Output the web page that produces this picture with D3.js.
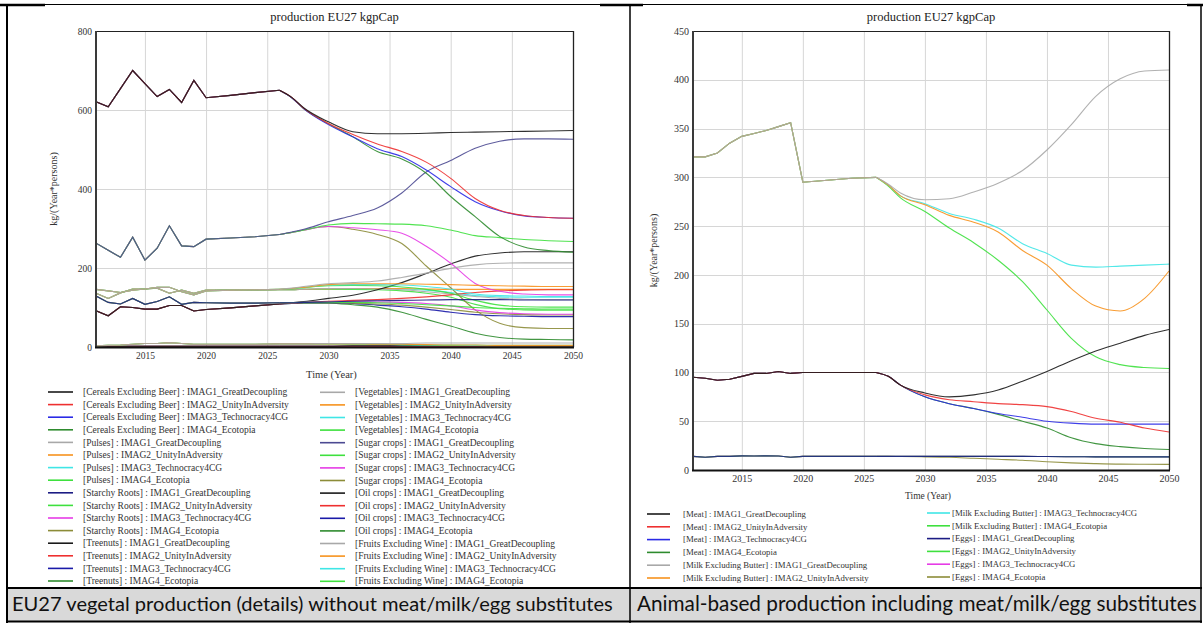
<!DOCTYPE html>
<html><head><meta charset="utf-8">
<script src="https://cdn.jsdelivr.net/npm/d3@7"></script>
<style>
html,body{margin:0;padding:0;background:#fff;}
svg{display:block;}
</style></head>
<body>
<svg id="c" width="1203" height="623"></svg>
<script>
// ---------- shared ----------
const SCENARIOS = ["IMAG1_GreatDecoupling","IMAG2_UnityInAdversity","IMAG3_Technocracy4CG","IMAG4_Ecotopia"];
const HIST_YEARS = [2011,2012,2013,2014,2015,2016,2017,2018,2019,2020,2022,2024,2026];
const FUT_YEARS  = [2027,2028,2030,2032,2034,2036,2038,2040,2042,2044,2046,2048,2050];
const X_TICKS = [2015,2020,2025,2030,2035,2040,2045,2050];

// ---------- left chart (vegetal) ----------
const LEFT_Y_TICKS = [0,200,400,600,800];
const cerealsHist = [621,608,654,700,667,634,652,619,675,631,637,644,650];
const cerealsFut = [
  [632,605,570,545,540,540,541,543,544,545,546,547,548],
  [632,604,566,538,514,495,468,427,376,346,333,328,326],
  [631,603,563,532,502,482,448,406,368,345,332,328,326],
  [631,603,565,532,495,476,440,381,330,280,253,244,240]];
const pulsesHist = [3,4,5,7,9,9,11,9,7,7,7,7,8];
const pulsesFut = [
  [8,8,9,9,9,9,10,10,10,10,10,10,10],
  [8,8,8,8,7,7,6,5,5,4,4,4,4],
  [8,8,8,8,7,6,5,5,4,4,4,4,4],
  [8,8,8,7,7,6,5,4,4,3,3,3,3]];
const starchyHist = [129,113,109,123,108,115,127,108,113,112,111,111,112];
const starchyFut = [
  [112,113,114,116,117,118,119,120,120,120,119,119,119],
  [112,113,113,113,112,110,107,104,100,98,97,96,96],
  [112,113,113,114,114,113,110,104,94,87,84,83,83],
  [112,112,112,111,109,106,101,95,88,84,82,81,81]];
const treenutsHist = [2,2,2,2,2,2,2,2,2,2,2,2,2];
const treenutsFut = [
  [2,2,2,3,3,3,3,3,3,3,3,3,3],
  [2,2,2,2,2,2,2,2,2,2,2,2,2],
  [2,2,2,2,2,2,2,2,2,2,2,2,2],
  [2,2,2,2,2,2,2,2,1,1,1,1,1]];
const vegHist = [146,142,138,144,147,151,151,140,132,142,144,145,146];
const vegFut = [
  [149,153,160,163,167,176,187,199,208,212,213,213,213],
  [148,151,158,160,160,160,159,158,156,155,154,153,153],
  [148,151,157,158,158,157,153,146,134,130,129,128,128],
  [147,150,155,156,155,152,146,136,118,106,102,101,101]];
const sugarHist = [263,245,227,278,220,250,307,256,254,273,276,279,285];
const sugarFut = [
  [291,298,317,333,352,390,443,472,503,521,527,527,526],
  [290,296,309,313,312,311,307,296,282,277,272,269,267],
  [290,296,305,302,297,288,255,212,161,141,134,132,132],
  [290,296,305,298,285,262,205,150,94,60,49,47,47]];
const oilHist = [92,79,102,100,96,96,105,105,91,95,99,104,109];
const oilFut = [
  [112,115,123,131,145,163,186,210,230,238,241,241,241],
  [111,113,116,118,120,123,127,132,138,142,144,145,145],
  [110,112,112,110,106,102,96,88,82,79,78,77,77],
  [110,111,111,107,101,88,70,53,35,24,20,19,18]];
const fruitsHist = [136,123,137,147,147,149,136,144,136,144,144,144,145];
const fruitsFut = [
  [145,146,148,148,147,145,140,134,128,123,121,120,120],
  [145,146,147,148,148,148,147,146,146,146,146,146,146],
  [145,146,147,148,148,147,144,138,130,127,126,126,126],
  [145,146,146,146,145,142,136,126,108,97,94,93,93]];

// ---------- right chart (animal) ----------
const RIGHT_Y_TICKS = [0,50,100,150,200,250,300,350,400,450];
const meatHist = [95,94,92,93,96,99,99,101,99,100,100,100,100];
const meatFut = [
  [96,87,79,75,77,82,91,101,112,122,130,138,144],
  [96,87,77,72,70,68,67,65,60,53,49,43,39],
  [96,87,75,68,63,58,54,50,48,47,47,47,47],
  [96,87,75,68,63,57,50,43,33,27,24,22,21]];
const milkHist = [321,321,325,335,342,345,348,352,356,295,297,299,300];
const milkFut = [
  [293,284,277,278,285,294,307,328,354,383,401,409,410],
  [292,281,272,261,254,244,225,210,186,168,163,176,204],
  [292,281,273,263,257,248,232,222,210,208,209,210,211],
  [291,279,265,248,233,215,193,164,135,116,108,105,104]];
const eggsHist = [14,13,14,14,14.5,14.3,14.5,14.3,13,14,14,14,14];
const eggsFut = [
  [14,14,14,14,14,14,14,13.8,13.6,13.5,13.5,13.5,13.5],
  [14,14,14,14,14,14,14,13.8,13.6,13.5,13.5,13.5,13.5],
  [14,14,14,14,14,14,14,13.8,13.6,13.5,13.5,13.5,13.5],
  [14,13.8,13.5,13,12,11,10,8.5,7.3,6.5,6,5.9,5.8]];

// ---------- colours ----------
const C = {black:"#1a1a1a", red:"#ee3030", blue:"#2a2ae6", green:"#2e8b2e", grey:"#a8a8a8",
  orange:"#f7921e", cyan:"#3fe6e6", lime:"#3ee03e", navy:"#1c1c84", magenta:"#e63ce6",
  olive:"#8c8c38", slate:"#4c4a92", dblue:"#1a1aa8"};

function group(name, hist, fut, colors){
  return SCENARIOS.map((s,i)=>({label:"["+name+"] : "+s, hist:hist, fut:fut[i], color:colors[i]}));
}
const leftCol1 = [].concat(
  group("Cereals Excluding Beer", cerealsHist, cerealsFut, [C.black,C.red,C.blue,C.green]),
  group("Pulses", pulsesHist, pulsesFut, [C.grey,C.orange,C.cyan,C.lime]),
  group("Starchy Roots", starchyHist, starchyFut, [C.navy,C.lime,C.magenta,C.olive]),
  group("Treenuts", treenutsHist, treenutsFut, [C.black,C.red,C.dblue,C.green]));
const leftCol2 = [].concat(
  group("Vegetables", vegHist, vegFut, [C.grey,C.orange,C.cyan,C.lime]),
  group("Sugar crops", sugarHist, sugarFut, [C.slate,C.lime,C.magenta,C.olive]),
  group("Oil crops", oilHist, oilFut, [C.black,C.red,C.dblue,C.green]),
  group("Fruits Excluding Wine", fruitsHist, fruitsFut, [C.grey,C.orange,C.cyan,C.lime]));
const rightAll = [].concat(
  group("Meat", meatHist, meatFut, [C.black,C.red,C.blue,C.green]),
  group("Milk Excluding Butter", milkHist, milkFut, [C.grey,C.orange,C.cyan,C.lime]),
  group("Eggs", eggsHist, eggsFut, [C.navy,C.lime,C.magenta,C.olive]));

const SERIF = "'Liberation Serif','Times New Roman',serif";
const svg = d3.select("#c");

function drawChart(cfg){
  const g = svg.append("g");
  const x = d3.scaleLinear().domain([2011,2050]).range([cfg.left,cfg.right]);
  const y = d3.scaleLinear().domain([0,cfg.ymax]).range([cfg.bottom,cfg.top]);
  // grid
  g.selectAll(null).data(X_TICKS.filter(t=>t<2050)).join("line")
    .attr("x1",d=>x(d)+0.5).attr("x2",d=>x(d)+0.5).attr("y1",cfg.top).attr("y2",cfg.bottom)
    .attr("stroke","#d6d6d6").attr("stroke-width",1);
  g.selectAll(null).data(cfg.yTicks.filter(t=>t>0&&t<cfg.ymax)).join("line")
    .attr("x1",cfg.left).attr("x2",cfg.right).attr("y1",d=>Math.round(y(d))+0.5).attr("y2",d=>Math.round(y(d))+0.5)
    .attr("stroke","#d6d6d6").attr("stroke-width",1);
  // series (first legend entry drawn last / on top)
  const lin = d3.line().x(d=>x(d[0])).y(d=>y(d[1])).curve(d3.curveLinear);
  const smooth = d3.line().x(d=>x(d[0])).y(d=>y(d[1])).curve(d3.curveMonotoneX);
  const ser = cfg.series.slice().reverse();
  ser.forEach(s=>{
    const hp = HIST_YEARS.map((yr,i)=>[yr,s.hist[i]]);
    const fp = [[2026,s.hist[s.hist.length-1]]].concat(FUT_YEARS.map((yr,i)=>[yr,s.fut[i]]));
    g.append("path").attr("d",lin(hp)).attr("fill","none").attr("stroke",s.color).attr("stroke-width",1.1).attr("stroke-opacity",0.85);
    g.append("path").attr("d",smooth(fp)).attr("fill","none").attr("stroke",s.color).attr("stroke-width",1.1).attr("stroke-opacity",0.9);
  });
  // frame
  g.append("line").attr("x1",cfg.left).attr("x2",cfg.right).attr("y1",cfg.top+0.5).attr("y2",cfg.top+0.5).attr("stroke","#222").attr("stroke-width",1);
  g.append("line").attr("x1",cfg.right+0.5).attr("x2",cfg.right+0.5).attr("y1",cfg.top).attr("y2",cfg.bottom).attr("stroke","#222").attr("stroke-width",1.3);
  g.append("line").attr("x1",cfg.left).attr("x2",cfg.left).attr("y1",cfg.top).attr("y2",cfg.bottom+1).attr("stroke","#3a3a3a").attr("stroke-width",2);
  g.append("line").attr("x1",cfg.left-1).attr("x2",cfg.right+1).attr("y1",cfg.bottom+0.5).attr("y2",cfg.bottom+0.5).attr("stroke","#111").attr("stroke-width",2);
  // axes
  const ax = g.append("g").attr("transform",`translate(0,${cfg.bottom})`)
    .call(d3.axisBottom(x).tickValues(X_TICKS).tickFormat(d3.format("d")).tickSize(0).tickPadding(cfg.xPad));
  ax.select(".domain").remove();
  ax.selectAll("text").attr("font-family",SERIF).attr("font-size",cfg.tickFont).attr("fill","#333");
  const ay = g.append("g").attr("transform",`translate(${cfg.left},0)`)
    .call(d3.axisLeft(y).tickValues(cfg.yTicks).tickSize(0).tickPadding(4));
  ay.select(".domain").remove();
  ay.selectAll("text").attr("font-family",SERIF).attr("font-size",cfg.tickFont).attr("fill","#333");
  // titles
  g.append("text").attr("x",(cfg.left+cfg.right)/2).attr("y",20.5).attr("text-anchor","middle")
    .attr("font-family",SERIF).attr("font-size",12.5).attr("fill","#222").text("production EU27 kgpCap");
  g.append("text").attr("transform",`translate(${cfg.yLabelX},${(cfg.top+cfg.bottom)/2}) rotate(-90)`)
    .attr("text-anchor","middle").attr("dy","0.35em")
    .attr("font-family",SERIF).attr("font-size",10).attr("fill","#333").text("kg/(Year*persons)");
  g.append("text").attr("x",(cfg.left+cfg.right)/2-3).attr("y",cfg.xLabelY).attr("text-anchor","middle").attr("dy","0.35em")
    .attr("font-family",SERIF).attr("font-size",cfg.xLabelFont).attr("fill","#333").text("Time (Year)");
  // legend
  cfg.legend.forEach(col=>{
    col.items.forEach((s,i)=>{
      const yy = col.y0 + i*col.dy;
      g.append("line").attr("x1",col.lx1).attr("x2",col.lx2).attr("y1",yy).attr("y2",yy)
        .attr("stroke",s.color).attr("stroke-width",1.6);
      g.append("text").attr("x",col.tx).attr("y",yy).attr("dy","0.33em")
        .attr("font-family",SERIF).attr("font-size",col.font).attr("fill","#333").text(s.label);
    });
  });
}

drawChart({left:96,right:573,top:31,bottom:347,ymax:800,yTicks:LEFT_Y_TICKS,
  series:leftCol1.concat(leftCol2),xPad:5,tickFont:9.5,yLabelX:53,xLabelY:374,xLabelFont:10.5,
  legend:[{items:leftCol1,y0:392,dy:12.6,lx1:48,lx2:73,tx:83,font:9.5},
          {items:leftCol2,y0:392.3,dy:12.6,lx1:320,lx2:345,tx:355,font:9.5}]});
drawChart({left:693,right:1169,top:31,bottom:470,ymax:450,yTicks:RIGHT_Y_TICKS,
  series:rightAll,xPad:4.5,tickFont:10,yLabelX:653,xLabelY:496,xLabelFont:9.5,
  legend:[{items:rightAll.slice(0,6),y0:514,dy:12.8,lx1:647,lx2:670,tx:683,font:8.75},
          {items:rightAll.slice(6),y0:513,dy:12.8,lx1:927,lx2:950,tx:952,font:8.75}]});

// ---------- table frame & captions ----------
const CAPTIONS = ["EU27 vegetal production (details) without meat/milk/egg substitutes",
                  "Animal-based production including meat/milk/egg substitutes"];
const frame = svg.append("g");
frame.append("rect").attr("x",7).attr("y",589).attr("width",1194).attr("height",32).attr("fill","#d9d9d9");
frame.append("line").attr("x1",0).attr("x2",1203).attr("y1",4.5).attr("y2",4.5).attr("stroke","#000").attr("stroke-width",1);
[[0,45],[600,643],[1187,1203]].forEach(([a,b])=>frame.append("line").attr("x1",a).attr("x2",b).attr("y1",5).attr("y2",5).attr("stroke","#000").attr("stroke-width",2.5));
frame.append("line").attr("x1",7).attr("x2",7).attr("y1",4).attr("y2",623).attr("stroke","#000").attr("stroke-width",2);
frame.append("line").attr("x1",630).attr("x2",630).attr("y1",4).attr("y2",623).attr("stroke","#000").attr("stroke-width",1.5);
frame.append("line").attr("x1",1201).attr("x2",1201).attr("y1",4).attr("y2",623).attr("stroke","#000").attr("stroke-width",1.5);
frame.append("line").attr("x1",6).attr("x2",1202).attr("y1",588).attr("y2",588).attr("stroke","#000").attr("stroke-width",2);
frame.append("line").attr("x1",6).attr("x2",1202).attr("y1",621.5).attr("y2",621.5).attr("stroke","#000").attr("stroke-width",2);
const capSpec = [{x:12,w:601},{x:637,w:560}];
CAPTIONS.forEach((t,i)=>{
  const tx = frame.append("text").attr("x",capSpec[i].x).attr("y",611).attr("font-family","Lato, 'Open Sans', sans-serif")
    .attr("font-size",18).attr("fill","#111").text(t);
  const w = tx.node().getComputedTextLength();
  tx.attr("font-size",18*capSpec[i].w/w);
});
</script>
</body></html>
